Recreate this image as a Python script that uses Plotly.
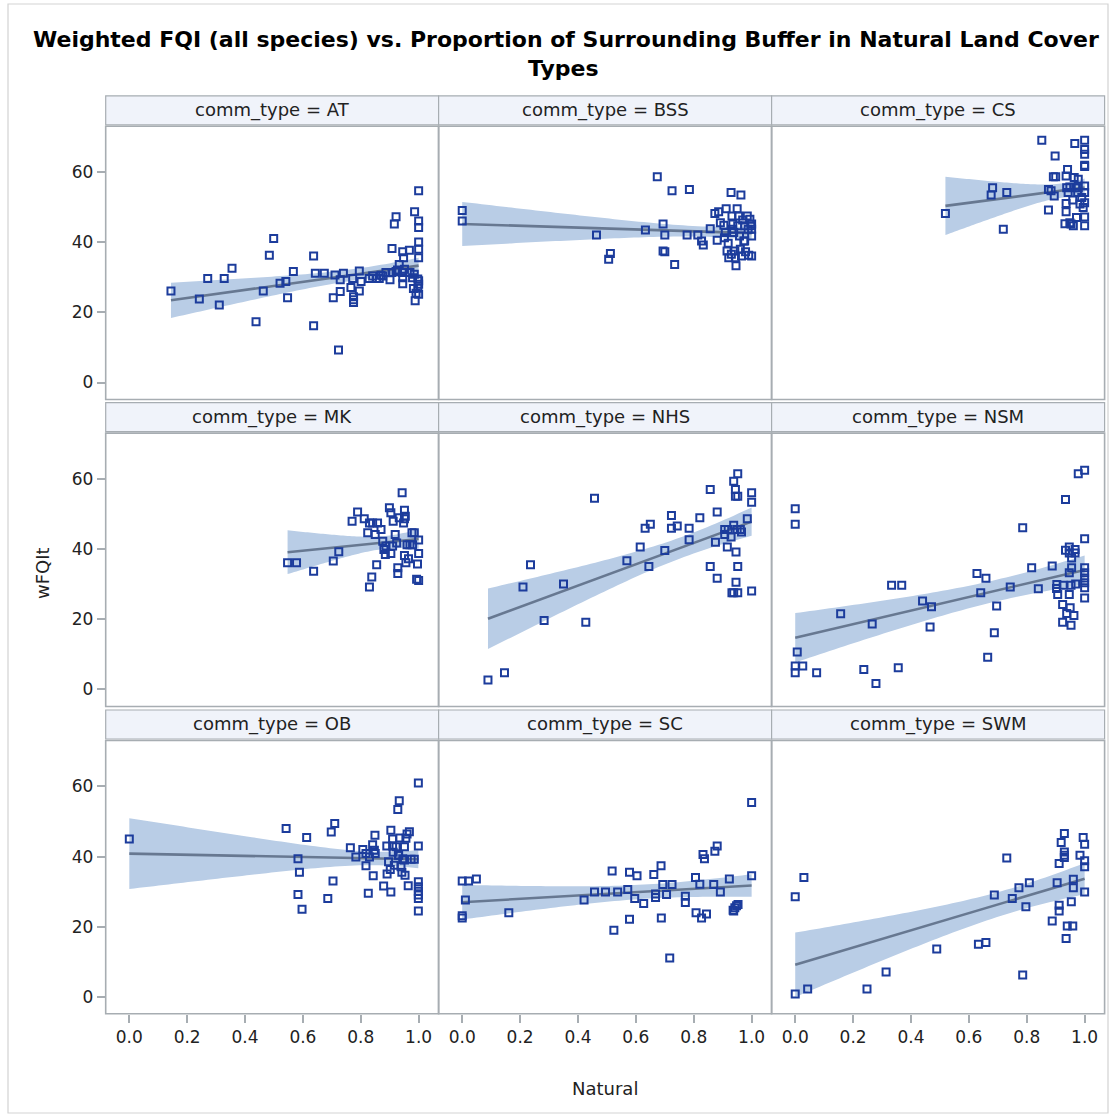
import numpy as np
import plotly.graph_objects as go

W, H = 1112, 1115

# ---- data: proportion of natural land cover (x) vs weighted FQI (y) per community type ----
panel_names = ["AT", "BSS", "CS", "MK", "NHS", "NSM", "OB", "SC", "SWM"]

at_x = [0.144, 0.242, 0.271, 0.311, 0.328, 0.355, 0.438, 0.463, 0.484, 0.499,
        0.521, 0.541, 0.547, 0.567, 0.637, 0.637, 0.643, 0.674, 0.705, 0.711,
        0.723, 0.729, 0.729, 0.740, 0.766, 0.772, 0.775, 0.775, 0.775, 0.795,
        0.795, 0.801, 0.829, 0.841, 0.864, 0.876, 0.887, 0.901, 0.908, 0.916,
        0.922, 0.922, 0.933, 0.943, 0.945, 0.948, 0.945, 0.945, 0.968, 0.970,
        0.979, 0.982, 0.986, 0.988, 0.997, 0.997, 1.0, 1.0, 1.0, 1.0,
        1.0, 1.0, 1.0, 1.0, 1.0, 0.991, 0.985, 0.927, 0.908, 0.855,
        0.870, 0.951]
at_y = [26.1, 23.8, 29.7, 22.1, 29.7, 32.6, 17.3, 26.1, 36.3, 41.1,
        28.3, 28.8, 24.2, 31.7, 36.1, 16.2, 31.2, 31.2, 24.2, 30.7,
        9.3, 26.0, 29.3, 31.2, 27.1, 29.7, 24.5, 23.6, 22.8, 31.8,
        26.1, 28.8, 29.7, 30.4, 29.7, 30.4, 31.4, 29.3, 38.2, 45.2,
        47.3, 31.7, 33.7, 31.4, 37.3, 35.6, 29.9, 28.2, 37.7, 31.4,
        29.9, 26.8, 48.7, 23.3, 29.5, 26.9, 54.7, 46.1, 44.2, 40.1,
        38.0, 35.6, 29.0, 28.0, 25.2, 25.5, 30.9, 32.1, 31.4, 29.7,
        30.6, 32.3]

bss_x = [0.0, 0.0, 0.464, 0.512, 0.506, 0.633, 0.674, 0.694, 0.700, 0.694,
         0.700, 0.725, 0.734, 0.777, 0.785, 0.814, 0.827, 0.833, 0.857, 0.873,
         0.881, 0.886, 0.892, 0.904, 0.906, 0.912, 0.915, 0.919, 0.921, 0.929,
         0.932, 0.935, 0.938, 0.942, 0.946, 0.950, 0.952, 0.955, 0.958, 0.961,
         0.963, 0.965, 0.969, 0.973, 0.976, 0.979, 0.985, 0.988, 0.990, 0.994,
         0.997, 1.0, 1.0, 1.0, 1.0, 0.930, 0.944, 0.909, 0.932, 0.976]
bss_y = [49.1, 46.1, 42.1, 36.8, 35.2, 43.5, 58.7, 45.2, 42.1, 37.5,
         37.3, 54.7, 33.7, 42.1, 55.1, 42.1, 40.4, 39.2, 43.9, 48.2,
         40.6, 48.7, 45.6, 44.9, 41.3, 49.6, 37.5, 39.7, 35.6, 54.2,
         47.5, 45.2, 42.8, 37.5, 33.3, 49.6, 44.7, 47.5, 41.8, 38.0,
         53.5, 36.1, 46.4, 40.4, 44.7, 37.3, 47.5, 43.7, 36.3, 46.6,
         44.7, 41.8, 36.1, 45.2, 43.7, 36.6, 35.6, 42.8, 43.7, 40.4]

cs_x = [0.519, 0.677, 0.682, 0.719, 0.731, 0.852, 0.875, 0.875, 0.884, 0.892,
        0.895, 0.898, 0.900, 0.936, 0.936, 0.936, 0.932, 0.938, 0.941, 0.943,
        0.949, 0.953, 0.959, 0.961, 0.964, 0.966, 0.969, 0.972, 0.976, 0.978,
        0.984, 0.990, 0.995, 1.0, 1.0, 1.0, 1.0, 1.0, 1.0, 1.0,
        1.0, 1.0, 1.0, 0.949, 0.978]
cs_y = [48.2, 53.5, 55.6, 43.7, 54.2, 69.1, 55.1, 49.2, 54.7, 58.7,
        53.2, 64.6, 58.7, 58.9, 51.1, 48.7, 45.3, 55.6, 60.8, 54.2,
        55.8, 45.2, 52.1, 44.7, 58.5, 68.2, 55.6, 47.1, 54.2, 58.0,
        50.9, 52.8, 49.9, 69.1, 66.5, 65.1, 62.0, 61.6, 56.1, 54.2,
        51.3, 47.2, 44.7, 45.6, 55.6]

mk_x = [0.547, 0.578, 0.637, 0.705, 0.724, 0.770, 0.789, 0.812, 0.824, 0.830,
        0.830, 0.838, 0.841, 0.850, 0.855, 0.858, 0.870, 0.876, 0.885, 0.887,
        0.899, 0.904, 0.904, 0.910, 0.912, 0.919, 0.924, 0.928, 0.928, 0.933,
        0.943, 0.948, 0.951, 0.951, 0.954, 0.956, 0.960, 0.965, 0.970, 0.977,
        0.979, 0.985, 0.993, 0.996, 1.0, 1.0, 1.0, 0.951, 0.880]
mk_y = [36.1, 36.1, 33.7, 36.6, 39.3, 48.0, 50.6, 48.7, 44.7, 47.5,
        29.2, 32.1, 47.5, 44.2, 35.6, 47.5, 45.6, 42.3, 38.5, 40.9,
        51.8, 50.4, 38.8, 40.9, 48.0, 44.2, 41.8, 34.7, 33.1, 49.0,
        56.1, 47.5, 51.1, 38.2, 49.4, 36.1, 41.3, 37.3, 41.3, 44.7,
        41.3, 44.7, 31.4, 35.8, 42.6, 38.8, 31.1, 48.7, 39.9]

nhs_x = [0.089, 0.146, 0.210, 0.236, 0.283, 0.350, 0.427, 0.457, 0.569, 0.615,
         0.632, 0.650, 0.645, 0.700, 0.723, 0.723, 0.743, 0.784, 0.784, 0.821,
         0.857, 0.857, 0.875, 0.881, 0.881, 0.907, 0.907, 0.916, 0.919, 0.929,
         0.938, 0.938, 0.938, 0.944, 0.944, 0.946, 0.946, 0.950, 0.952, 0.952,
         0.952, 0.952, 0.961, 0.965, 0.985, 1.0, 1.0, 1.0, 0.932]
nhs_y = [2.7, 4.8, 29.2, 35.6, 19.7, 30.1, 19.2, 54.5, 36.7, 40.6,
         46.0, 47.1, 35.1, 39.6, 49.6, 46.0, 46.6, 46.0, 42.7, 49.0,
         57.0, 35.1, 42.0, 50.6, 31.7, 45.6, 44.2, 40.6, 45.6, 43.5,
         46.8, 59.4, 27.6, 57.0, 55.1, 39.2, 30.6, 45.6, 61.5, 55.1,
         35.1, 27.6, 45.6, 44.9, 48.7, 56.1, 53.4, 28.1, 27.6]

nsm_x = [0.0, 0.0, 0.007, 0.0, 0.0, 0.026, 0.074, 0.157, 0.237, 0.266,
         0.279, 0.333, 0.368, 0.356, 0.440, 0.471, 0.466, 0.628, 0.641, 0.659,
         0.665, 0.688, 0.696, 0.743, 0.786, 0.817, 0.840, 0.888, 0.903, 0.907,
         0.924, 0.924, 0.926, 0.934, 0.934, 0.938, 0.947, 0.947, 0.947, 0.950,
         0.953, 0.953, 0.955, 0.955, 0.963, 0.967, 0.969, 0.978, 1.0, 1.0,
         1.0, 1.0, 1.0, 1.0, 1.0, 1.0, 0.967, 0.947, 0.904]
nsm_y = [51.5, 47.1, 10.7, 6.7, 4.8, 6.7, 4.8, 21.6, 5.7, 18.7,
         1.7, 29.7, 29.7, 6.2, 25.2, 23.6, 17.8, 33.1, 27.6, 31.7,
         9.2, 16.2, 23.8, 29.2, 46.1, 34.7, 28.7, 35.2, 28.8, 27.1,
         24.2, 19.2, 29.7, 54.2, 39.7, 21.7, 40.6, 33.3, 27.1, 23.3,
         29.7, 18.3, 37.5, 34.7, 21.1, 39.9, 30.1, 61.5, 62.5, 43.0,
         34.7, 33.3, 31.8, 30.4, 29.0, 26.1, 38.9, 38.9, 29.9]

ob_x = [0.0, 0.542, 0.583, 0.588, 0.583, 0.597, 0.613, 0.686, 0.698, 0.710,
        0.704, 0.764, 0.783, 0.807, 0.818, 0.826, 0.830, 0.841, 0.843, 0.849,
        0.850, 0.879, 0.890, 0.891, 0.896, 0.902, 0.904, 0.904, 0.910, 0.912,
        0.916, 0.922, 0.928, 0.931, 0.933, 0.935, 0.939, 0.942, 0.945, 0.951,
        0.953, 0.956, 0.960, 0.964, 0.968, 0.974, 0.985, 0.999, 0.999, 0.999,
        0.999, 0.999, 0.999, 0.999, 0.999, 0.910, 0.930, 0.951, 0.847, 0.818]
ob_y = [45.0, 48.0, 39.4, 35.5, 29.2, 25.0, 45.4, 28.0, 47.0, 49.4,
        33.0, 42.5, 39.9, 42.0, 37.4, 29.5, 39.9, 43.4, 34.5, 46.1,
        40.9, 31.6, 43.0, 35.0, 38.5, 36.3, 47.5, 29.9, 45.0, 41.2,
        37.5, 42.8, 53.4, 40.4, 55.9, 45.3, 37.1, 35.5, 39.4, 42.8,
        34.7, 45.2, 46.4, 31.7, 47.1, 39.2, 39.2, 61.0, 43.0, 32.8,
        31.4, 30.1, 29.0, 28.0, 24.5, 43.0, 40.4, 39.0, 41.8, 40.9]

sc_x = [0.0, 0.022, 0.049, 0.011, 0.0, 0.0, 0.161, 0.421, 0.457, 0.495,
        0.518, 0.524, 0.537, 0.572, 0.578, 0.578, 0.596, 0.604, 0.627, 0.662,
        0.668, 0.668, 0.687, 0.688, 0.693, 0.706, 0.717, 0.725, 0.771, 0.771,
        0.806, 0.808, 0.821, 0.827, 0.832, 0.837, 0.844, 0.869, 0.873, 0.881,
        0.892, 0.923, 0.936, 0.942, 0.948, 0.953, 1.0, 1.0, 0.938]
sc_y = [33.0, 33.0, 33.6, 27.6, 23.1, 22.5, 24.0, 27.6, 29.9, 29.9,
        35.9, 19.0, 29.9, 30.6, 35.5, 22.1, 28.0, 34.5, 26.6, 34.9,
        29.3, 28.3, 37.4, 22.5, 32.0, 29.2, 11.1, 32.0, 28.7, 26.9,
        34.0, 24.0, 32.1, 22.5, 40.6, 39.4, 23.6, 32.0, 41.5, 43.0,
        29.9, 33.6, 24.7, 25.4, 26.0, 26.3, 55.4, 34.5, 24.5]

swm_x = [0.0, 0.0, 0.030, 0.043, 0.248, 0.314, 0.489, 0.633, 0.659, 0.688,
         0.731, 0.750, 0.773, 0.786, 0.797, 0.809, 0.888, 0.905, 0.912, 0.912,
         0.912, 0.919, 0.930, 0.930, 0.930, 0.930, 0.936, 0.940, 0.954, 0.959,
         0.961, 0.961, 0.984, 0.995, 1.0, 1.0, 1.0, 1.0]
swm_y = [0.8, 28.5, 34.0, 2.2, 2.2, 7.1, 13.6, 15.0, 15.5, 29.0,
         39.6, 28.0, 31.1, 6.2, 25.7, 32.5, 21.6, 32.5, 26.1, 24.5,
         38.0, 44.0, 46.6, 41.3, 40.4, 39.7, 16.6, 20.2, 27.1, 20.2,
         33.5, 31.1, 40.4, 45.4, 43.5, 38.8, 37.1, 29.9]

panel_x = [at_x, bss_x, cs_x, mk_x, nhs_x, nsm_x, ob_x, sc_x, swm_x]
panel_y = [at_y, bss_y, cs_y, mk_y, nhs_y, nsm_y, ob_y, sc_y, swm_y]

x_ticks = [0.0, 0.2, 0.4, 0.6, 0.8, 1.0]
x_ticklabels = ["0.0", "0.2", "0.4", "0.6", "0.8", "1.0"]
y_ticks = [0, 20, 40, 60]

# ---- styling ----
FONT = "DejaVu Sans"
MARKER = "#1c3c9c"
FIT_LINE = "#677891"
BAND = "#b9cde6"
FRAME = "#a7adb2"
HEADER_FILL = "#f0f3fa"
TEXT = "#222222"

# panel geometry in pixels
col_edges = [(105.7, 438.6), (438.6, 771.6), (771.6, 1104.6)]
row_edges = [(126.3, 399.5), (433.1, 706.5), (740.5, 1013.8)]
HEADER_H = 30.5
X_RANGE = [-0.0816, 1.069]
Y_RANGE = [-4.85, 73.1]


def fx(px):
    return px / W


def fy(py):
    return 1 - py / H


def t_quantile_975(df):
    z = 1.959964
    return (z + (z ** 3 + z) / (4 * df)
            + (5 * z ** 5 + 16 * z ** 3 + 3 * z) / (96 * df ** 2)
            + (3 * z ** 7 + 19 * z ** 5 + 17 * z ** 3 - 15 * z) / (384 * df ** 3))


def fit_with_clm(x, y, n_grid=60):
    x = np.asarray(x, float)
    y = np.asarray(y, float)
    n = len(x)
    xbar, ybar = x.mean(), y.mean()
    sxx = np.sum((x - xbar) ** 2)
    b1 = np.sum((x - xbar) * (y - ybar)) / sxx
    b0 = ybar - b1 * xbar
    resid = y - (b0 + b1 * x)
    s = np.sqrt(np.sum(resid ** 2) / (n - 2))
    grid = np.linspace(x.min(), x.max(), n_grid)
    pred = b0 + b1 * grid
    half = t_quantile_975(n - 2) * s * np.sqrt(1.0 / n + (grid - xbar) ** 2 / sxx)
    return grid, pred, pred - half, pred + half


fig = go.Figure()
shapes = []
annotations = []
layout_axes = {}

for k, name in enumerate(panel_names):
    r, c = divmod(k, 3)
    xl, xr = col_edges[c]
    yt, yb = row_edges[r]
    sfx = "" if k == 0 else str(k + 1)
    xref, yref = "x" + sfx, "y" + sfx

    grid, pred, lo, hi = fit_with_clm(panel_x[k], panel_y[k])

    fig.add_trace(go.Scatter(
        x=np.concatenate([grid, grid[::-1]]),
        y=np.concatenate([hi, lo[::-1]]),
        fill="toself", fillcolor=BAND, mode="none",
        hoverinfo="skip", showlegend=False, xaxis=xref, yaxis=yref))
    fig.add_trace(go.Scatter(
        x=grid, y=pred, mode="lines",
        line=dict(color=FIT_LINE, width=2.6),
        showlegend=False, xaxis=xref, yaxis=yref))
    fig.add_trace(go.Scatter(
        x=panel_x[k], y=panel_y[k], mode="markers",
        marker=dict(symbol="square-open", size=7, color=MARKER,
                    line=dict(color=MARKER, width=2)),
        showlegend=False, xaxis=xref, yaxis=yref))

    layout_axes["xaxis" + sfx] = dict(
        domain=[fx(xl), fx(xr)], range=X_RANGE, anchor=yref,
        tickvals=x_ticks, ticktext=x_ticklabels,
        showticklabels=(r == 2), ticks="outside" if r == 2 else "",
        ticklen=8, tickwidth=1.5, tickcolor=FRAME,
        tickfont=dict(family=FONT, size=17, color=TEXT),
        showgrid=False, zeroline=False, showline=False, fixedrange=True)
    layout_axes["yaxis" + sfx] = dict(
        domain=[fy(yb), fy(yt)], range=Y_RANGE, anchor=xref,
        tickvals=y_ticks,
        showticklabels=(c == 0), ticks="outside" if c == 0 else "",
        ticklen=8, tickwidth=1.5, tickcolor=FRAME,
        tickfont=dict(family=FONT, size=17, color=TEXT),
        showgrid=False, zeroline=False, showline=False, fixedrange=True)

    # panel frame
    shapes.append(dict(type="rect", xref="paper", yref="paper",
                       x0=fx(xl), x1=fx(xr), y0=fy(yb), y1=fy(yt),
                       line=dict(color=FRAME, width=1.6), layer="above"))
    # header strip
    shapes.append(dict(type="rect", xref="paper", yref="paper",
                       x0=fx(xl), x1=fx(xr), y0=fy(yt - 1.5), y1=fy(yt - HEADER_H),
                       fillcolor=HEADER_FILL, line=dict(color=FRAME, width=1.2),
                       layer="below"))
    annotations.append(dict(
        text=f"comm_type = {name}", xref="paper", yref="paper",
        x=fx((xl + xr) / 2), y=fy(yt - HEADER_H / 2 - 1), xanchor="center",
        yanchor="middle", showarrow=False,
        font=dict(family=FONT, size=18, color=TEXT)))

# outer border of the graph
shapes.append(dict(type="rect", xref="paper", yref="paper",
                   x0=fx(8), x1=fx(1108), y0=fy(1113), y1=fy(4),
                   line=dict(color="#d3d3d3", width=1.2), layer="below"))

# titles
annotations.append(dict(
    text="<b>Weighted FQI (all species) vs. Proportion of Surrounding Buffer in Natural Land Cover</b>",
    xref="paper", yref="paper", x=fx(566), y=fy(40), xanchor="center", yanchor="middle",
    showarrow=False, font=dict(family=FONT, size=22, color="#000000")))
annotations.append(dict(
    text="<b>Types</b>",
    xref="paper", yref="paper", x=fx(563), y=fy(69), xanchor="center", yanchor="middle",
    showarrow=False, font=dict(family=FONT, size=22, color="#000000")))
annotations.append(dict(
    text="Natural", xref="paper", yref="paper", x=fx(605), y=fy(1088),
    xanchor="center", yanchor="middle", showarrow=False,
    font=dict(family=FONT, size=18, color=TEXT)))
annotations.append(dict(
    text="wFQIt", xref="paper", yref="paper", x=fx(42), y=fy(573),
    xanchor="center", yanchor="middle", textangle=-90, showarrow=False,
    font=dict(family=FONT, size=18, color=TEXT)))

fig.update_layout(
    width=W, height=H, autosize=False,
    margin=dict(l=0, r=0, t=0, b=0),
    paper_bgcolor="white", plot_bgcolor="rgba(0,0,0,0)",
    shapes=shapes, annotations=annotations,
    showlegend=False, **layout_axes)

fig.write_html("out.html", config={"displayModeBar": False})
